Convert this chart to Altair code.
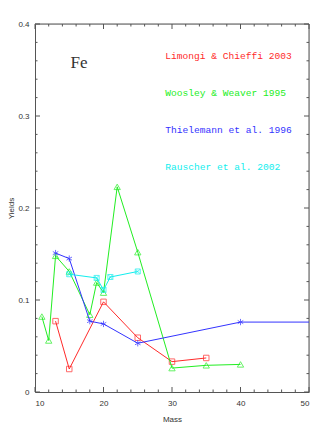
import altair as alt
import pandas as pd

# Limongi & Chieffi 2003
lc_mass = [13, 15, 20, 25, 30, 35]
lc_yield = [0.077, 0.025, 0.098, 0.059, 0.033, 0.037]
# Woosley & Weaver 1995
ww_mass = [11, 12, 13, 15, 18, 19, 20, 22, 25, 30, 35, 40]
ww_yield = [0.082, 0.056, 0.148, 0.131, 0.084, 0.119, 0.108, 0.223, 0.152, 0.026, 0.029, 0.030]
# Thielemann et al. 1996 (line continues past the frame)
th_mass = [13, 15, 18, 20, 25, 40]
th_yield = [0.151, 0.145, 0.077, 0.074, 0.053, 0.076]
th_tail_mass = [40, 70]
th_tail_yield = [0.076, 0.076]
# Rauscher et al. 2002
ra_mass = [15, 19, 20, 21, 25]
ra_yield = [0.128, 0.124, 0.111, 0.125, 0.131]

labels = ["Limongi & Chieffi 2003", "Woosley & Weaver 1995", "Thielemann et al. 1996", "Rauscher et al. 2002"]
label_y = [0.365, 0.325, 0.285, 0.245]
colors = ["#ff2a2a", "#22ee22", "#3333ff", "#11eeee"]

x_major = [10, 20, 30, 40, 50]
x_minor = [12, 14, 16, 18, 22, 24, 26, 28, 32, 34, 36, 38, 42, 44, 46, 48]
y_major = [0, 0.1, 0.2, 0.3, 0.4]
y_minor = [0.02, 0.04, 0.06, 0.08, 0.12, 0.14, 0.16, 0.18, 0.22, 0.24, 0.26, 0.28, 0.32, 0.34, 0.36, 0.38]

W, H = 274, 368
xs = alt.Scale(domain=[10, 50], nice=False, zero=False)
ys = alt.Scale(domain=[0, 0.4], nice=False)
FRAME = "#555555"
TXT = "#333333"

STAR = "M0,-1L0,1M-0.87,-0.5L0.87,0.5M-0.87,0.5L0.87,-0.5"
BOXX = "M-1,-1L1,-1L1,1L-1,1ZM-1,-1L1,1M-1,1L1,-1"

XAXIS = alt.Axis(values=x_major, ticks=False, domain=True, domainColor=FRAME, grid=False,
                 labelFontSize=8, labelFont="Liberation Sans", labelColor=TXT,
                 labelPadding=7, title="Mass", titleFontSize=8,
                 titleFont="Liberation Sans", titleFontWeight="normal",
                 titleColor=TXT, titlePadding=8)
YAXIS = alt.Axis(values=y_major, format="~g", ticks=False, domain=True, domainColor=FRAME, grid=False,
                 labelFontSize=8, labelFont="Liberation Sans", labelColor=TXT,
                 labelPadding=6, title="Yields", titleFontSize=8,
                 titleFont="Liberation Sans", titleFontWeight="normal",
                 titleColor=TXT, titlePadding=2)


def df(m, y):
    return pd.DataFrame({"m": m, "y": y})


X = lambda: alt.X("m:Q", scale=xs, axis=XAXIS, title="Mass")
Y = lambda: alt.Y("y:Q", scale=ys, axis=YAXIS, title="Yields")


def series(m, y, color, shape, size):
    d = df(m, y)
    line = alt.Chart(d).mark_line(color=color, strokeWidth=1, clip=True).encode(x=X(), y=Y())
    pts = alt.Chart(d).mark_point(color=color, shape=shape, size=size, filled=False, strokeWidth=1).encode(x=X(), y=Y())
    return [line, pts]


layers = []


def yticks(vals, L):
    d = pd.DataFrame({"y": vals})
    left = alt.Chart(d).mark_rule(color=FRAME, strokeWidth=1).encode(y=Y(), x=alt.value(0), x2=alt.value(L))
    right = alt.Chart(d).mark_rule(color=FRAME, strokeWidth=1).encode(y=Y(), x=alt.value(W), x2=alt.value(W - L))
    return [left, right]


def xticks(vals, L):
    d = pd.DataFrame({"m": vals})
    top = alt.Chart(d).mark_rule(color=FRAME, strokeWidth=1).encode(x=X(), y=alt.value(0), y2=alt.value(L))
    bot = alt.Chart(d).mark_rule(color=FRAME, strokeWidth=1).encode(x=X(), y=alt.value(H), y2=alt.value(H - L))
    return [top, bot]


layers += yticks(y_major, 5) + yticks(y_minor, 2.5) + xticks(x_major, 5) + xticks(x_minor, 2.5)

fr = pd.DataFrame({"m": [10], "y": [0.4]})
layers.append(alt.Chart(fr).mark_rule(color=FRAME, strokeWidth=1).encode(
    x=alt.value(0), x2=alt.value(W), y=alt.value(0)))
layers.append(alt.Chart(fr).mark_rule(color=FRAME, strokeWidth=1).encode(
    x=alt.value(W), y=alt.value(0), y2=alt.value(H)))

layers += series(lc_mass, lc_yield, colors[0], "square", 30)
layers += series(ww_mass, ww_yield, colors[1], "triangle-up", 40)
layers.append(alt.Chart(df(th_tail_mass, th_tail_yield)).mark_line(color=colors[2], strokeWidth=1, clip=True).encode(x=X(), y=Y()))
layers += series(th_mass, th_yield, colors[2], STAR, 40)
layers += series(ra_mass, ra_yield, colors[3], BOXX, 25)

leg = pd.DataFrame({"m": [29] * 4, "y": label_y, "t": labels, "c": colors})
layers.append(alt.Chart(leg).mark_text(align="left", baseline="middle", font="Liberation Mono", fontSize=9.6).encode(
    x=X(), y=Y(), text="t:N", color=alt.Color("c:N", scale=None)))

fe = pd.DataFrame({"m": [15.2], "y": [0.358], "t": ["Fe"]})
layers.append(alt.Chart(fe).mark_text(align="left", baseline="middle", font="Liberation Serif", fontSize=17, color=TXT).encode(
    x=X(), y=Y(), text="t:N"))

chart = alt.layer(*layers).properties(
    width=W, height=H,
    autosize=alt.AutoSizeParams(type="none"),
    padding={"left": 27, "top": 16, "right": 10, "bottom": 30},
).configure_view(stroke=None).configure(background="white")

chart.save("out.html", embed_options={"renderer": "svg", "actions": False})
